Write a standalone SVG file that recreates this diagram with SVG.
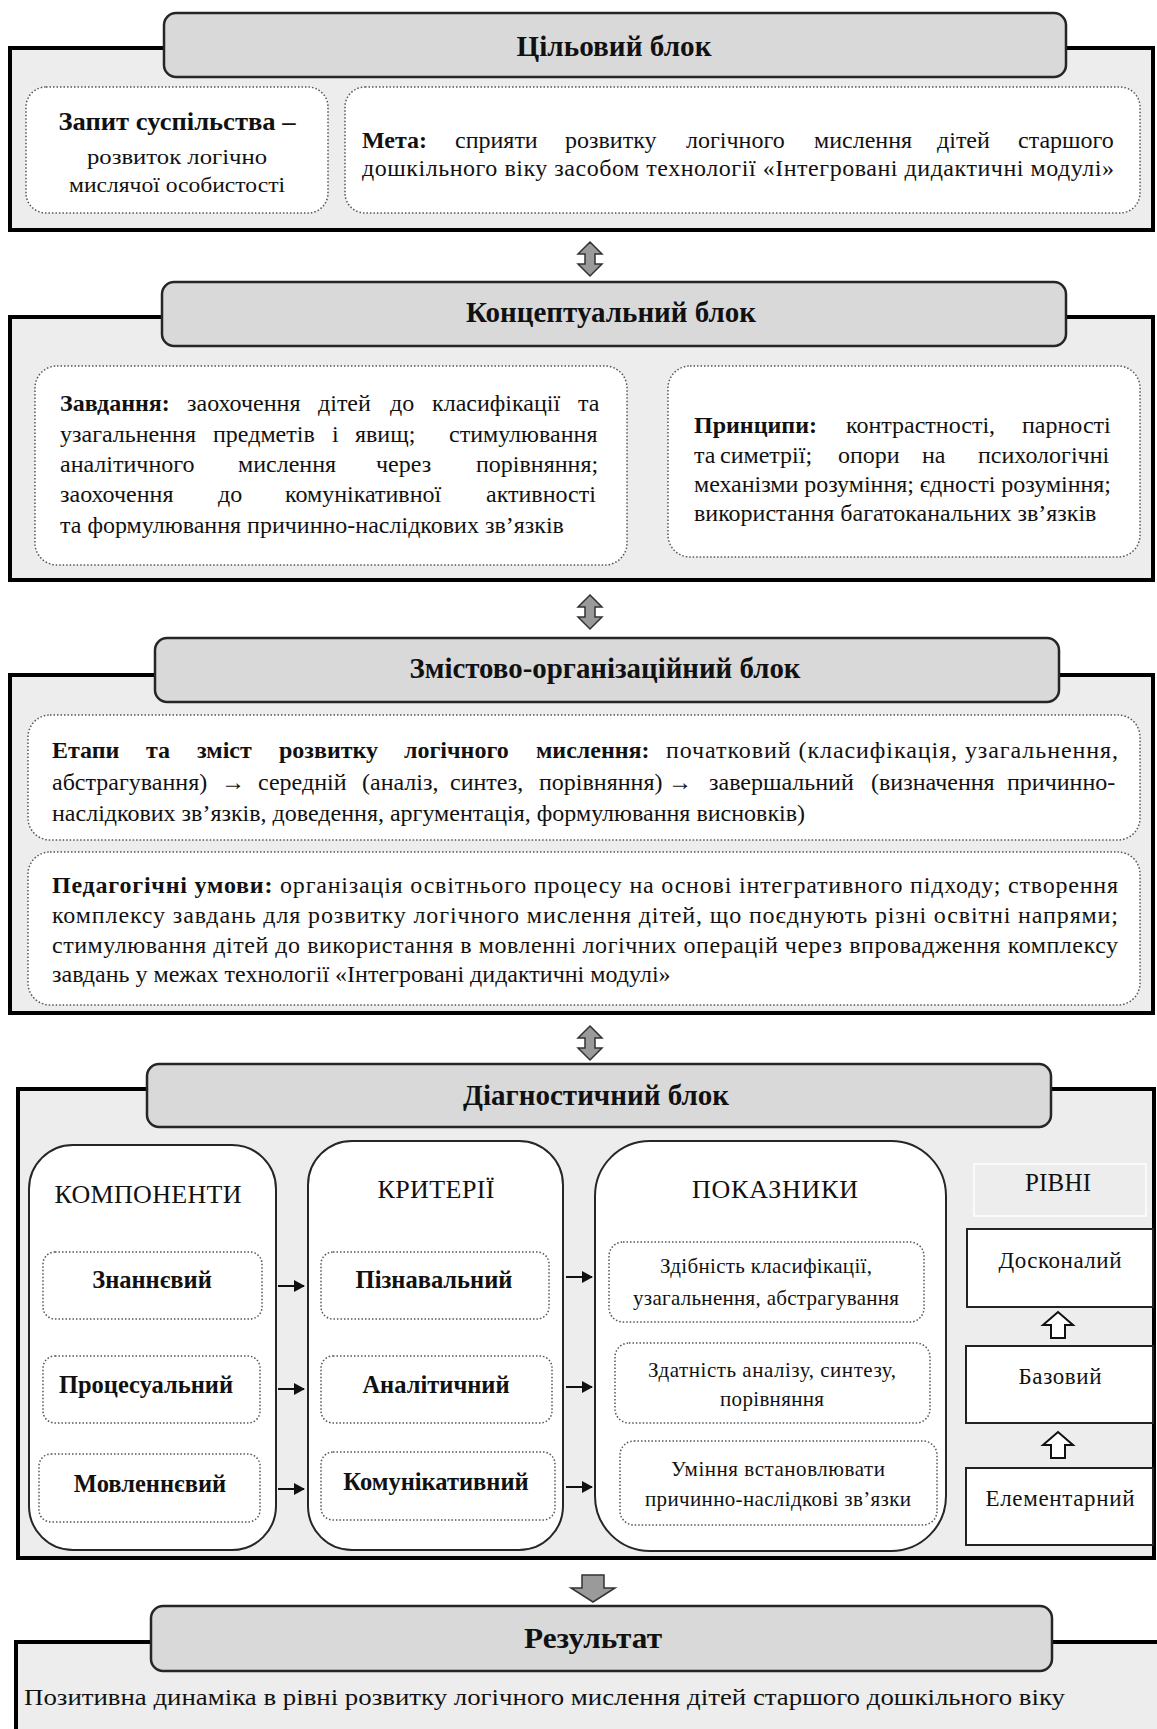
<svg xmlns="http://www.w3.org/2000/svg" width="1157" height="1729" viewBox="0 0 1157 1729">
<style>
text{font-family:"Liberation Serif","Times New Roman",serif;fill:#111;}
.b{font-weight:bold;}
.hdr{font-size:29px;font-weight:bold;text-anchor:middle;}
.body{font-size:24px;}
.mid{text-anchor:middle;}
.sub{font-size:24.5px;font-weight:bold;text-anchor:middle;}
.frame{fill:#ededed;stroke:#000;stroke-width:4;}
.head{fill:#d9d9d9;stroke:#262626;stroke-width:2.5;}
.dot{fill:#fff;stroke:#555;stroke-width:1.5;stroke-dasharray:1.5 2;}
.col{fill:#fff;stroke:#262626;stroke-width:2;}
.lvl{fill:#fff;stroke:#222;stroke-width:2;}
.blk{fill:#9a9a9a;stroke:#333;stroke-width:1.5;}
.hol{fill:#fff;stroke:#111;stroke-width:2;}
.con{stroke:#111;stroke-width:2;fill:none;}
</style>
<defs>
<path id="dbl" d="M0,-17 L12,-5 L5,-5 L5,5 L12,5 L0,17 L-12,5 L-5,5 L-5,-5 L-12,-5 Z"/>
<marker id="ah" markerWidth="11" markerHeight="12" refX="10" refY="6" orient="auto" markerUnits="userSpaceOnUse"><path d="M0,0 L11,6 L0,12 Z" fill="#111"/></marker>
</defs>

<!-- Block 1 -->
<g id="block-goal">
<rect class="frame" x="10" y="48" width="1143" height="182"/>
<rect class="head" x="164" y="13" width="902" height="64" rx="12"/>
<text class="hdr" x="614" y="56" textLength="195" lengthAdjust="spacingAndGlyphs">Цільовий блок</text>
<rect class="dot" x="26" y="87" width="302" height="126" rx="20"/>
<text class="b mid" x="177" y="130" font-size="25" textLength="237" lengthAdjust="spacingAndGlyphs">Запит суспільства –</text>
<text class="mid" x="177" y="164" font-size="22" textLength="180" lengthAdjust="spacingAndGlyphs">розвиток логічно</text>
<text class="mid" x="177" y="192" font-size="22" textLength="216" lengthAdjust="spacingAndGlyphs">мислячої особистості</text>
<rect class="dot" x="345" y="87" width="795" height="126" rx="20"/>
<text class="body" y="148"><tspan class="b" x="362">Мета:</tspan><tspan x="455">сприяти</tspan><tspan x="565">розвитку</tspan><tspan x="686">логічного</tspan><tspan x="814">мислення</tspan><tspan x="937">дітей</tspan><tspan x="1018">старшого</tspan></text>
<text class="body" x="362" y="176" textLength="752" lengthAdjust="spacing">дошкільного віку засобом технології «Інтегровані дидактичні модулі»</text>
</g>

<!-- Block 2 -->
<g id="block-concept">
<rect class="frame" x="10" y="317" width="1143" height="263"/>
<rect class="head" x="162" y="282" width="904" height="64" rx="12"/>
<text class="hdr" x="611" y="322" textLength="290" lengthAdjust="spacingAndGlyphs">Концептуальний блок</text>
<rect class="dot" x="35" y="366" width="592" height="199" rx="22"/>
<text class="body" y="411"><tspan class="b" x="60">Завдання:</tspan><tspan x="187">заохочення</tspan><tspan x="318">дітей</tspan><tspan x="390">до</tspan><tspan x="432">класифікації</tspan><tspan x="578">та</tspan></text>
<text class="body" y="442"><tspan x="60">узагальнення</tspan><tspan x="213">предметів</tspan><tspan x="332">і</tspan><tspan x="355">явищ;</tspan><tspan x="449">стимулювання</tspan></text>
<text class="body" y="472"><tspan x="60">аналітичного</tspan><tspan x="238">мислення</tspan><tspan x="376">через</tspan><tspan x="476">порівняння;</tspan></text>
<text class="body" y="502"><tspan x="60">заохочення</tspan><tspan x="218">до</tspan><tspan x="285">комунікативної</tspan><tspan x="486">активності</tspan></text>
<text class="body" x="60" y="533">та формулювання причинно-наслідкових зв’язків</text>
<rect class="dot" x="668" y="366" width="472" height="191" rx="22"/>
<text class="body" y="433"><tspan class="b" x="694">Принципи:</tspan><tspan x="846">контрастності,</tspan><tspan x="1022">парності</tspan></text>
<text class="body" y="463"><tspan x="694">та</tspan><tspan x="720">симетрії;</tspan><tspan x="838">опори</tspan><tspan x="922">на</tspan><tspan x="978">психологічні</tspan></text>
<text class="body" x="694" y="492" textLength="417" lengthAdjust="spacing">механізми розуміння; єдності розуміння;</text>
<text class="body" x="694" y="521">використання багатоканальних зв’язків</text>
</g>

<!-- Block 3 -->
<g id="block-content">
<rect class="frame" x="10" y="675" width="1143" height="338"/>
<rect class="head" x="155" y="638" width="904" height="64" rx="12"/>
<text class="hdr" x="605" y="678" textLength="391" lengthAdjust="spacingAndGlyphs">Змістово-організаційний блок</text>
<rect class="dot" x="28" y="715" width="1112" height="125" rx="22"/>
<text class="body b" y="758"><tspan x="52">Етапи</tspan><tspan x="146">та</tspan><tspan x="197">зміст</tspan><tspan x="279">розвитку</tspan><tspan x="404">логічного</tspan><tspan x="536">мислення:</tspan></text>
<text class="body" x="666" y="758" textLength="452" lengthAdjust="spacing">початковий (класифікація, узагальнення,</text>
<text class="body" y="790"><tspan x="52">абстрагування)</tspan><tspan x="221">→</tspan><tspan x="258">середній</tspan><tspan x="362">(аналіз,</tspan><tspan x="450">синтез,</tspan><tspan x="539">порівняння)</tspan><tspan x="668">→</tspan><tspan x="709">завершальний</tspan><tspan x="871">(визначення</tspan><tspan x="1007">причинно-</tspan></text>
<text class="body" x="52" y="821">наслідкових зв’язків, доведення, аргументація, формулювання висновків)</text>
<rect class="dot" x="28" y="852" width="1112" height="153" rx="22"/>
<text class="body" x="52" y="893" textLength="1066" lengthAdjust="spacing"><tspan class="b">Педагогічні умови:</tspan> організація освітнього процесу на основі інтегративного підходу; створення</text>
<text class="body" x="52" y="923" textLength="1066" lengthAdjust="spacing">комплексу завдань для розвитку логічного мислення дітей, що поєднують різні освітні напрями;</text>
<text class="body" x="52" y="953" textLength="1066" lengthAdjust="spacing">стимулювання дітей до використання в мовленні логічних операцій через впровадження комплексу</text>
<text class="body" x="52" y="982">завдань у межах технології «Інтегровані дидактичні модулі»</text>
</g>

<!-- Block 4 -->
<g id="block-diagnostic">
<rect class="frame" x="18" y="1089" width="1136" height="469"/>
<rect class="head" x="147" y="1064" width="904" height="63" rx="12"/>
<text class="hdr" x="596" y="1105" textLength="266" lengthAdjust="spacingAndGlyphs">Діагностичний блок</text>
</g>
<g id="col-components">
<rect class="col" x="29" y="1145" width="247" height="405" rx="44"/>
<text class="mid" x="148" y="1203" font-size="26" textLength="187">КОМПОНЕНТИ</text>
</g>
<g id="comp-knowledge"><rect class="dot" x="43" y="1252" width="219" height="67" rx="12"/><text class="sub" x="152" y="1288">Знаннєвий</text></g>
<g id="comp-process"><rect class="dot" x="43" y="1356" width="217" height="67" rx="12"/><text class="sub" x="146" y="1393">Процесуальний</text></g>
<g id="comp-speech"><rect class="dot" x="39" y="1454" width="221" height="68" rx="12"/><text class="sub" x="150" y="1492">Мовленнєвий</text></g>

<g id="col-criteria">
<rect class="col" x="308" y="1141" width="255" height="409" rx="44"/>
<text class="mid" x="436" y="1198" font-size="26" textLength="117">КРИТЕРІЇ</text>
</g>
<g id="crit-cognitive"><rect class="dot" x="321" y="1252" width="228" height="67" rx="12"/><text class="sub" x="434" y="1288">Пізнавальний</text></g>
<g id="crit-analytic"><rect class="dot" x="321" y="1356" width="231" height="67" rx="12"/><text class="sub" x="436" y="1393">Аналітичний</text></g>
<g id="crit-communicative"><rect class="dot" x="321" y="1452" width="234" height="68" rx="12"/><text class="sub" x="436" y="1490">Комунікативний</text></g>

<g id="col-indicators">
<rect class="col" x="595" y="1141" width="351" height="410" rx="55"/>
<text class="mid" x="775" y="1198" font-size="26" textLength="166">ПОКАЗНИКИ</text>
</g>
<g id="ind-1"><rect class="dot" x="609" y="1242" width="315" height="80" rx="14"/>
<text class="mid" x="766" y="1273" font-size="21" textLength="212">Здібність класифікації,</text>
<text class="mid" x="766" y="1305" font-size="21" textLength="266">узагальнення, абстрагування</text></g>
<g id="ind-2"><rect class="dot" x="615" y="1343" width="315" height="80" rx="14"/>
<text class="mid" x="772" y="1377" font-size="21" textLength="248">Здатність аналізу, синтезу,</text>
<text class="mid" x="772" y="1406" font-size="21" textLength="104">порівняння</text></g>
<g id="ind-3"><rect class="dot" x="620" y="1441" width="317" height="84" rx="14"/>
<text class="mid" x="778" y="1476" font-size="21" textLength="214">Уміння встановлювати</text>
<text class="mid" x="778" y="1506" font-size="21" textLength="266">причинно-наслідкові зв’язки</text></g>

<g id="levels-title"><rect x="974" y="1164" width="172" height="52" fill="#ededed" stroke="#fafafa" stroke-width="2"/>
<text class="mid" x="1058" y="1191" font-size="25" textLength="66">РІВНІ</text></g>
<g id="level-perfect"><rect class="lvl" x="967" y="1229" width="186" height="78"/><text class="mid" x="1060" y="1268" font-size="23" textLength="123">Досконалий</text></g>
<g id="level-basic"><rect class="lvl" x="966" y="1346" width="187" height="77"/><text class="mid" x="1060" y="1384" font-size="23" textLength="83">Базовий</text></g>
<g id="level-elementary"><rect class="lvl" x="966" y="1468" width="187" height="77"/><text class="mid" x="1060" y="1506" font-size="23" textLength="149">Елементарний</text></g>

<!-- Block 5 -->
<g id="block-result">
<rect class="frame" x="16" y="1642" width="1170" height="120"/>
<rect class="head" x="151" y="1606" width="901" height="65" rx="12"/>
<text class="hdr" x="593" y="1648" textLength="138" lengthAdjust="spacingAndGlyphs">Результат</text>
<text class="body" x="24" y="1705" font-size="25" textLength="1041" lengthAdjust="spacingAndGlyphs">Позитивна динаміка в рівні розвитку логічного мислення дітей старшого дошкільного віку</text>
</g>

<!-- Connectors -->
<g id="connectors">
<use href="#dbl" class="blk" x="590" y="259"/>
<use href="#dbl" class="blk" x="590" y="612"/>
<use href="#dbl" class="blk" x="590" y="1043"/>
<path class="blk" d="M582,1575 L604,1575 L604,1588 L615,1588 L593,1602 L571,1588 L582,1588 Z"/>
<line class="con" x1="278" y1="1286" x2="304" y2="1286" marker-end="url(#ah)"/>
<line class="con" x1="278" y1="1389" x2="304" y2="1389" marker-end="url(#ah)"/>
<line class="con" x1="278" y1="1489" x2="304" y2="1489" marker-end="url(#ah)"/>
<line class="con" x1="566" y1="1277" x2="592" y2="1277" marker-end="url(#ah)"/>
<line class="con" x1="566" y1="1387" x2="592" y2="1387" marker-end="url(#ah)"/>
<line class="con" x1="566" y1="1487" x2="592" y2="1487" marker-end="url(#ah)"/>
<path class="hol" d="M1058,1312 L1073,1325 L1065,1325 L1065,1338 L1051,1338 L1051,1325 L1043,1325 Z"/>
<path class="hol" d="M1058,1432 L1073,1445 L1065,1445 L1065,1458 L1051,1458 L1051,1445 L1043,1445 Z"/>
</g>
</svg>
